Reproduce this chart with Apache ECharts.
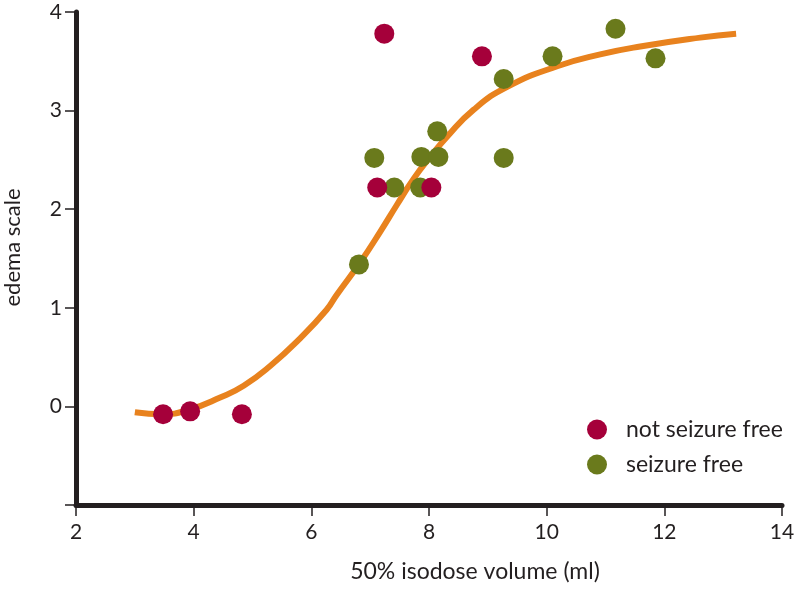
<!DOCTYPE html>
<html>
<head>
<meta charset="utf-8">
<script src="https://cdn.jsdelivr.net/npm/echarts@6/dist/echarts.min.js"></script>
<style>html,body{margin:0;padding:0;background:#fff}#c{width:800px;height:592px}</style>
</head>
<body>
<div id="c"></div>
<script>
var xTicks = [2, 4, 6, 8, 10, 12, 14];
var yTicks = [-1, 0, 1, 2, 3, 4];

var notFreeX = [3.48, 3.94, 4.82, 7.24, 7.12, 8.04, 8.90];
var notFreeY = [-0.08, -0.05, -0.08, 3.78, 2.22, 2.22, 3.55];

var freeX = [6.81, 7.07, 7.41, 7.87, 7.85, 8.14, 8.16, 9.27, 9.27, 10.10, 11.17, 11.85];
var freeY = [1.44, 2.52, 2.22, 2.53, 2.22, 2.79, 2.53, 2.52, 3.32, 3.55, 3.83, 3.53];

var curveX = [3.0, 3.47, 3.94, 4.45, 4.85, 5.30, 5.81, 6.26, 6.43, 6.83, 7.17, 7.45, 7.74, 8.02, 8.30, 8.76, 9.33, 10.18, 10.91, 11.59, 12.61, 13.22];
var curveY = [-0.06, -0.08, -0.03, 0.09, 0.21, 0.41, 0.69, 0.98, 1.13, 1.46, 1.77, 2.04, 2.31, 2.53, 2.73, 3.01, 3.24, 3.45, 3.57, 3.65, 3.74, 3.78];

function zip(a, b) { return a.map(function (v, i) { return [v, b[i]]; }); }

var FONT = 'Lato';
var INK = '#231f20';
var chart = echarts.init(document.getElementById('c'), null, { renderer: 'canvas' });
chart.setOption({
  backgroundColor: '#ffffff',
  animation: false,
  textStyle: { fontFamily: FONT, color: INK },
  grid: { left: 76, right: 18, top: 12, bottom: 87, containLabel: false, outerBoundsMode: 'none' },
  legend: {
    orient: 'vertical', left: 582, top: 413,
    itemWidth: 20, itemHeight: 20, itemGap: 12,
    data: ['not seizure free', 'seizure free'],
    textStyle: { fontFamily: FONT, fontSize: 23, lineHeight: 20, color: INK, padding: [0, 0, 0, 14] }
  },
  xAxis: {
    type: 'value', min: xTicks[0], max: xTicks[xTicks.length - 1], interval: 2,
    splitLine: { show: false },
    axisLine: { show: true, onZero: false, lineStyle: { color: INK, width: 5 } },
    axisTick: { show: true, length: 11, lineStyle: { color: INK, width: 1.5 } },
    axisLabel: { fontFamily: FONT, fontSize: 21, color: INK, margin: 17 },
    name: '50% isodose volume (ml)', nameLocation: 'middle', nameGap: 55,
    nameTextStyle: { fontFamily: FONT, fontSize: 23, color: INK, padding: [0, 0, 0, 92] }
  },
  yAxis: {
    type: 'value', min: yTicks[0], max: yTicks[yTicks.length - 1], interval: 1,
    splitLine: { show: false },
    axisLine: { show: true, onZero: false, lineStyle: { color: INK, width: 5 } },
    axisTick: { show: true, length: 11, lineStyle: { color: INK, width: 1.5 } },
    axisLabel: { fontFamily: FONT, fontSize: 21, color: INK, margin: 14,
      formatter: function (v) { return v === -1 ? '' : String(v); } },
    name: 'edema scale', nameLocation: 'middle', nameGap: 52, nameRotate: 90,
    nameTextStyle: { fontFamily: FONT, fontSize: 22, color: INK, padding: [0, 0, 0, 22] }
  },
  series: [
    { name: 'fit', type: 'line', data: zip(curveX, curveY), smooth: 0.5, showSymbol: false,
      lineStyle: { color: '#e8821e', width: 6 }, z: 1, silent: true },
    { name: 'seizure free', type: 'scatter', data: zip(freeX, freeY), symbol: 'circle', symbolSize: 20,
      itemStyle: { color: '#6a7a1c', opacity: 1 }, z: 3 },
    { name: 'not seizure free', type: 'scatter', data: zip(notFreeX, notFreeY), symbol: 'circle', symbolSize: 20,
      itemStyle: { color: '#a5003a', opacity: 1 }, z: 4 }
  ]
});
</script>
</body>
</html>
